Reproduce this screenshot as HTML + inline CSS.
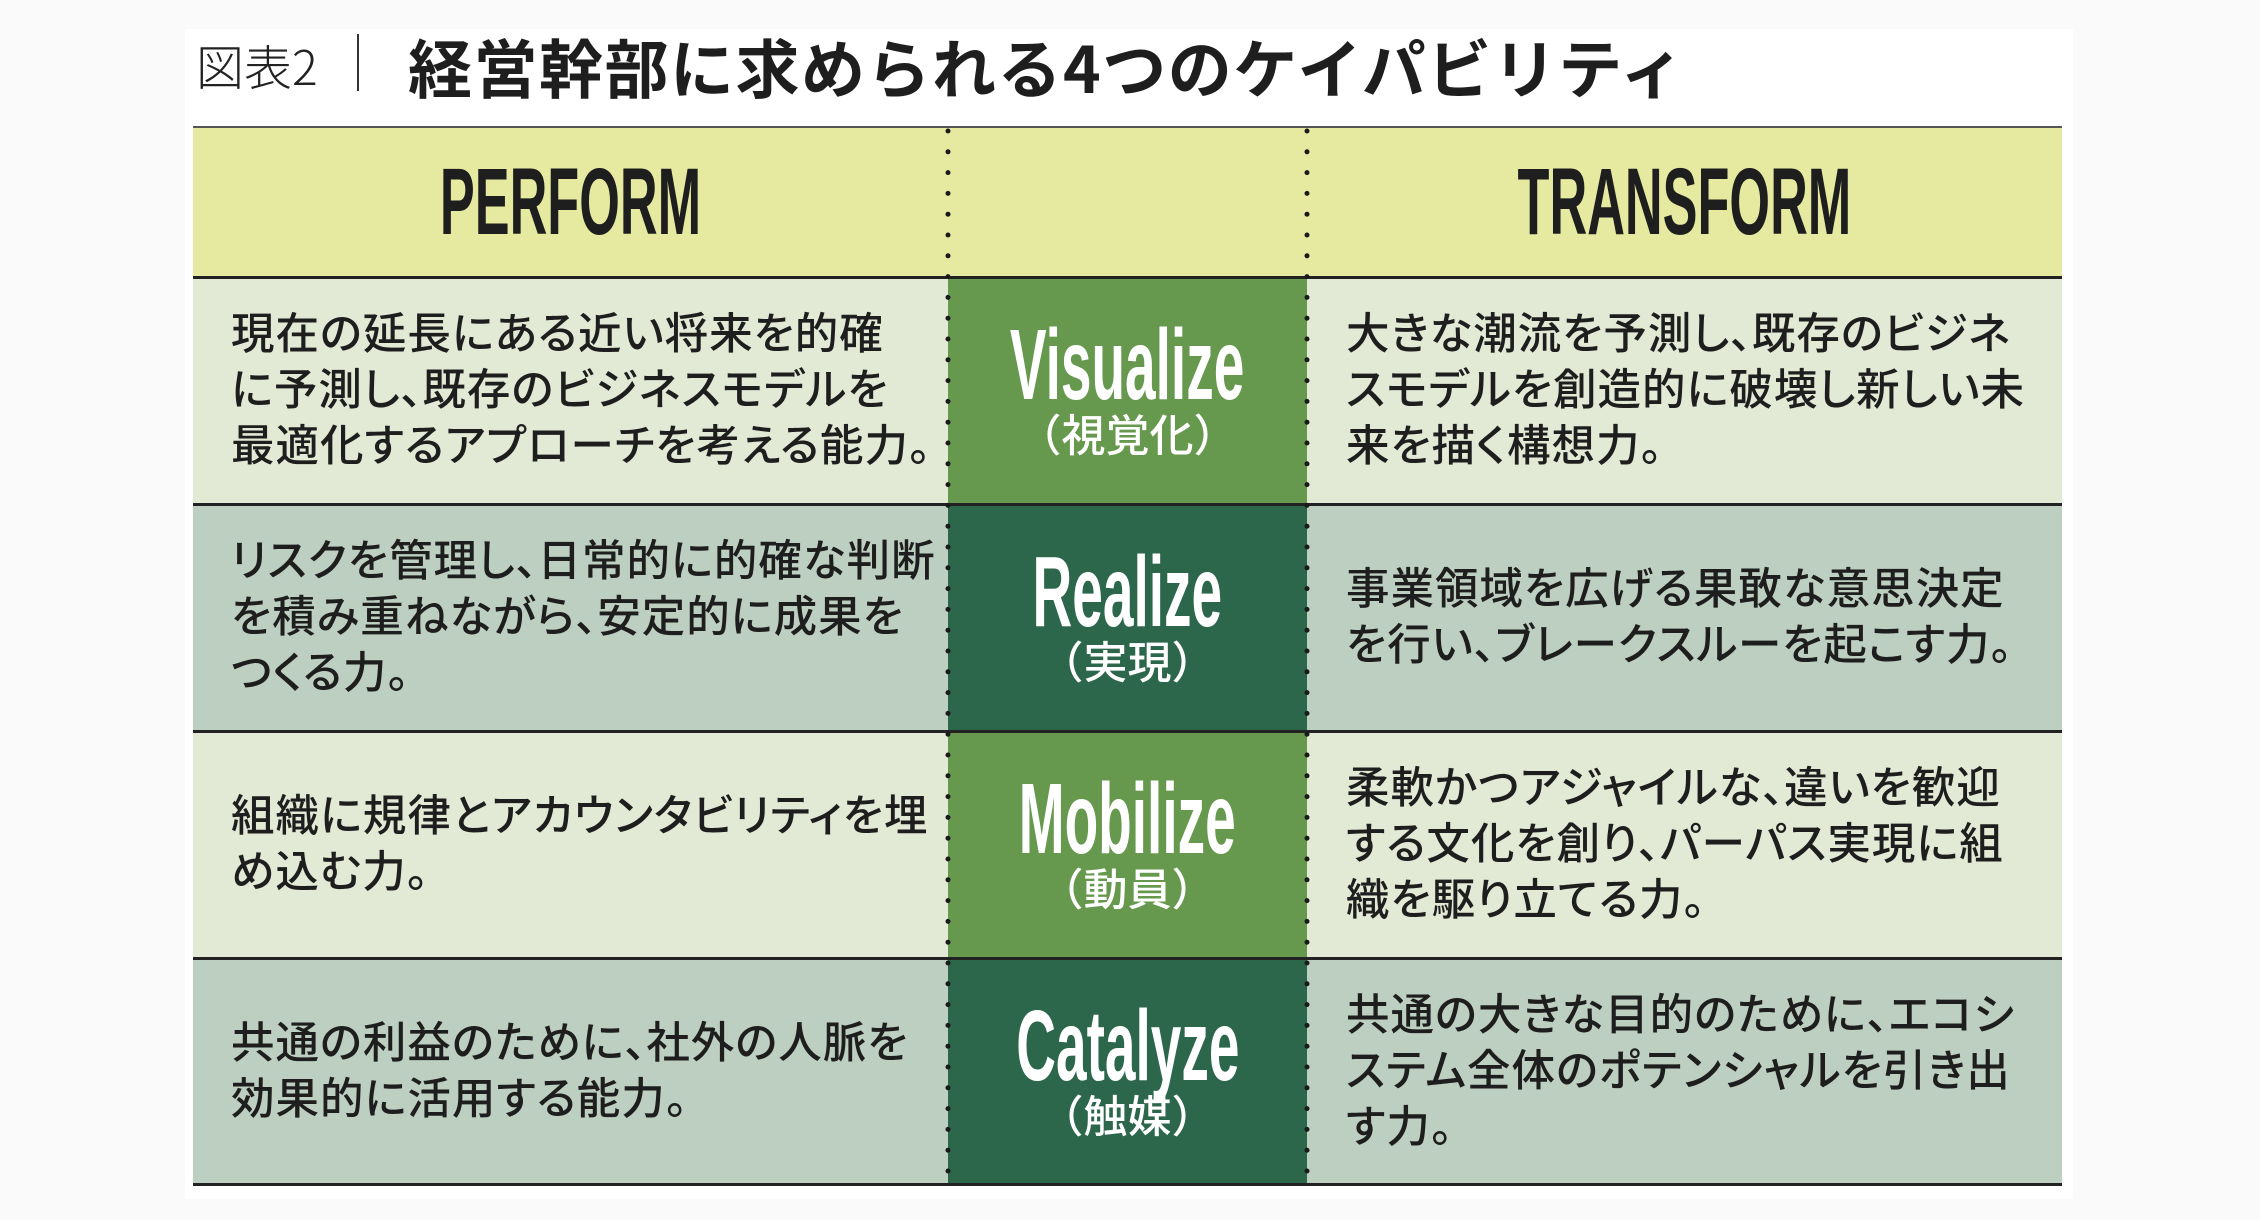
<!DOCTYPE html>
<html><head><meta charset="utf-8"><style>
*{margin:0;padding:0;box-sizing:border-box}
body{width:2260px;height:1220px;background:#fafafa;position:relative;overflow:hidden;font-family:"Liberation Sans","Noto Sans CJK JP",sans-serif;color:#1e1e1e}
.abs{position:absolute}
.panel{left:185px;top:29px;width:1888px;height:1170px;background:#fff}
.cell{position:absolute;display:flex;align-items:center}
.jp{font-family:"Liberation Sans","Noto Sans CJK JP",sans-serif;font-size:43.5px;line-height:56px;font-weight:500;white-space:nowrap;font-feature-settings:"palt";letter-spacing:1px}
.c{display:inline-block;width:0.5em;overflow:hidden;vertical-align:top}
.cond{font-family:"Liberation Sans",sans-serif;font-weight:bold;display:inline-block;transform:scaleX(0.55);white-space:nowrap}
.mid{position:absolute;left:948px;width:359px;color:#fff;text-align:center}
.mid .t{position:absolute;left:0;width:359px;font-size:100px;line-height:100px;display:flex;justify-content:center}
.mid .s{position:absolute;left:0;width:359px;font-family:"Liberation Sans","Noto Sans CJK JP",sans-serif;font-size:44px;line-height:50px;font-weight:500}
.hl{position:absolute;left:193px;width:1869px;height:3px;background:#222}
</style></head><body>
<div class="abs panel"></div>
<div class="abs" style="left:196px;top:34px;font-size:48px;line-height:60px;font-weight:300;font-family:'Noto Sans CJK JP',sans-serif;color:#222">図表2</div>
<div class="abs" style="left:357px;top:34px;width:2px;height:57px;background:#333"></div>
<div class="abs" style="left:408px;top:28px;font-size:64px;line-height:76px;font-weight:bold;font-family:'Noto Sans CJK JP',sans-serif;white-space:nowrap;letter-spacing:1.5px">経営幹部に求められる4つのケイパビリティ</div>

<div class="abs" style="left:193px;top:127px;width:1869px;height:150px;background:#e6e9a0"></div>
<div class="abs" style="left:193px;top:277px;width:1869px;height:227px;background:#e2e9d5"></div>
<div class="abs" style="left:193px;top:504px;width:1869px;height:227px;background:#bdcfc1"></div>
<div class="abs" style="left:193px;top:731px;width:1869px;height:227px;background:#e2e9d5"></div>
<div class="abs" style="left:193px;top:958px;width:1869px;height:227px;background:#bdcfc1"></div>
<div class="abs" style="left:948px;top:277px;width:359px;height:227px;background:#66984d"></div>
<div class="abs" style="left:948px;top:504px;width:359px;height:227px;background:#2c674c"></div>
<div class="abs" style="left:948px;top:731px;width:359px;height:227px;background:#66984d"></div>
<div class="abs" style="left:948px;top:958px;width:359px;height:227px;background:#2c674c"></div>

<div class="hl" style="top:126px;height:2px;background:#555"></div>
<div class="hl" style="top:276px"></div>
<div class="hl" style="top:503px"></div>
<div class="hl" style="top:730px"></div>
<div class="hl" style="top:957px"></div>
<div class="hl" style="top:1183px"></div>

<svg class="abs" style="left:0;top:0" width="2260" height="1220">
<line x1="948" y1="131" x2="948" y2="1184" stroke="#1a1a1a" stroke-width="5" stroke-linecap="round" stroke-dasharray="0 20.8"/>
<line x1="1307" y1="131" x2="1307" y2="1184" stroke="#1a1a1a" stroke-width="5" stroke-linecap="round" stroke-dasharray="0 20.8"/>
</svg>

<div class="abs" style="left:193px;top:127px;width:755px;height:150px;display:flex;align-items:center;justify-content:center;font-size:95px"><span class="cond">PERFORM</span></div>
<div class="abs" style="left:1307px;top:127px;width:755px;height:150px;display:flex;align-items:center;justify-content:center;font-size:95px"><span class="cond">TRANSFORM</span></div>

<div class="cell jp" style="left:231px;top:277px;height:227px"><div>現在の延長にある近い将来を的確<br>に予測し<span class="c">、</span>既存のビジネスモデルを<br>最適化するアプローチを考える能力<span class="c">。</span></div></div>
<div class="cell jp" style="left:231px;top:504px;height:227px"><div>リスクを管理し<span class="c">、</span>日常的に的確な判断<br>を積み重ねながら<span class="c">、</span>安定的に成果を<br>つくる力<span class="c">。</span></div></div>
<div class="cell jp" style="left:231px;top:731px;height:227px"><div>組織に規律とアカウンタビリティを埋<br>め込む力<span class="c">。</span></div></div>
<div class="cell jp" style="left:231px;top:958px;height:227px"><div>共通の利益のために<span class="c">、</span>社外の人脈を<br>効果的に活用する能力<span class="c">。</span></div></div>

<div class="cell jp" style="left:1346px;top:277px;height:227px"><div>大きな潮流を予測し<span class="c">、</span>既存のビジネ<br>スモデルを創造的に破壊し新しい未<br>来を描く構想力<span class="c">。</span></div></div>
<div class="cell jp" style="left:1346px;top:504px;height:227px"><div>事業領域を広げる果敢な意思決定<br>を行い<span class="c">、</span>ブレークスルーを起こす力<span class="c">。</span></div></div>
<div class="cell jp" style="left:1346px;top:731px;height:227px"><div>柔軟かつアジャイルな<span class="c">、</span>違いを歓迎<br>する文化を創り<span class="c">、</span>パーパス実現に組<br>織を駆り立てる力<span class="c">。</span></div></div>
<div class="cell jp" style="left:1346px;top:958px;height:227px"><div>共通の大きな目的のために<span class="c">、</span>エコシ<br>ステム全体のポテンシャルを引き出<br>す力<span class="c">。</span></div></div>

<div class="mid" style="top:277px"><div class="t" style="top:38px"><span class="cond">Visualize</span></div><div class="s" style="top:135px">（視覚化）</div></div>
<div class="mid" style="top:504px"><div class="t" style="top:38px"><span class="cond">Realize</span></div><div class="s" style="top:135px">（実現）</div></div>
<div class="mid" style="top:731px"><div class="t" style="top:38px"><span class="cond">Mobilize</span></div><div class="s" style="top:135px">（動員）</div></div>
<div class="mid" style="top:958px"><div class="t" style="top:38px"><span class="cond">Catalyze</span></div><div class="s" style="top:135px">（触媒）</div></div>
</body></html>
